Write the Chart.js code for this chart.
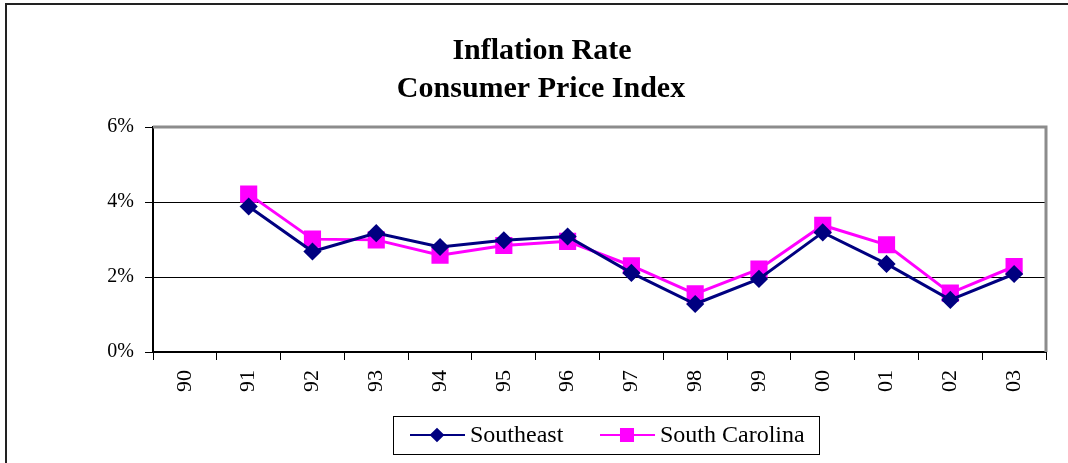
<!DOCTYPE html>
<html>
<head>
<meta charset="utf-8">
<script src="https://cdn.jsdelivr.net/npm/chart.js@4.4.1/dist/chart.umd.min.js"></script>
<style>
  html, body { margin: 0; padding: 0; background: #fff; overflow: hidden; }
  #wrap { position: relative; width: 1068px; height: 463px; }
</style>
</head>
<body>
<div id="wrap"><canvas id="chart" width="1068" height="463"></canvas></div>
<script>
// data
const years = ['90', '91', '92', '93', '94', '95', '96', '97', '98', '99', '00', '01', '02', '03'];
const southeast = [null, 3.88, 2.68, 3.17, 2.80, 2.98, 3.08, 2.11, 1.28, 1.95, 3.19, 2.35, 1.39, 2.08];
const southCarolina = [null, 4.21, 3.01, 2.99, 2.58, 2.84, 2.95, 2.30, 1.55, 2.21, 3.38, 2.86, 1.57, 2.28];
const titleLines = ['Inflation Rate', 'Consumer Price Index'];
const seriesNames = ['Southeast', 'South Carolina'];

const serif = '"Liberation Serif", "Times New Roman", serif';

// frame, plot border, title and the boxed legend
const decorations = {
    id: 'decorations',
    afterDraw(chart) {
        const ctx = chart.ctx;
        const area = chart.chartArea;
        ctx.save();

        // outer frame (top and left only are visible)
        ctx.fillStyle = '#222';
        ctx.fillRect(5, 3, 1068, 2);
        ctx.fillRect(5, 3, 2, 463);

        // grey plot border top / right
        ctx.strokeStyle = '#8c8c8c';
        ctx.lineWidth = 3;
        ctx.beginPath();
        ctx.moveTo(area.left, area.top);
        ctx.lineTo(area.right, area.top);
        ctx.lineTo(area.right, area.bottom);
        ctx.stroke();

        // title
        ctx.fillStyle = '#000';
        ctx.font = 'bold 30px ' + serif;
        ctx.textAlign = 'center';
        ctx.textBaseline = 'middle';
        ctx.fillText(titleLines[0], 542, 51);
        ctx.fillText(titleLines[1], 541, 89);

        // legend box
        ctx.strokeStyle = '#000';
        ctx.lineWidth = 1;
        ctx.strokeRect(393.5, 416.5, 426, 38);
        const items = [
            { x: 410, text: seriesNames[0], ds: chart.data.datasets[0] },
            { x: 600, text: seriesNames[1], ds: chart.data.datasets[1] }
        ];
        const ly = 435;
        ctx.font = '24px ' + serif;
        ctx.textAlign = 'left';
        items.forEach(function (it) {
            ctx.strokeStyle = it.ds.borderColor;
            ctx.lineWidth = 2;
            ctx.beginPath();
            ctx.moveTo(it.x, ly);
            ctx.lineTo(it.x + 55, ly);
            ctx.stroke();
            ctx.fillStyle = it.ds.pointBackgroundColor;
            ctx.strokeStyle = it.ds.pointBorderColor;
            Chart.helpers.drawPoint(ctx, {
                pointStyle: it.ds.pointStyle,
                radius: it.ds.pointRadius * 0.85,
                rotation: 0,
                borderWidth: 1
            }, it.x + 27, ly);
            ctx.fillStyle = '#000';
            ctx.fillText(it.text, it.x + 60, ly + 1);
        });
        ctx.restore();
    }
};

new Chart(document.getElementById('chart'), {
    type: 'line',
    data: {
        labels: years,
        datasets: [{
            label: seriesNames[0],
            data: southeast,
            borderColor: '#000080',
            backgroundColor: '#000080',
            pointBackgroundColor: '#000080',
            pointBorderColor: '#000080',
            pointStyle: 'rectRot',
            pointRadius: 7,
            borderWidth: 3,
            tension: 0
        }, {
            label: seriesNames[1],
            data: southCarolina,
            borderColor: '#ff00ff',
            backgroundColor: '#ff00ff',
            pointBackgroundColor: '#ff00ff',
            pointBorderColor: '#ff00ff',
            pointStyle: 'rect',
            pointRadius: 10,
            borderWidth: 3,
            tension: 0
        }]
    },
    options: {
        responsive: false,
        animation: false,
        layout: { padding: { left: 0, right: 22, top: 127, bottom: 0 } },
        plugins: {
            legend: { display: false },
            title: { display: false },
            tooltip: { enabled: false }
        },
        scales: {
            x: {
                offset: true,
                afterFit: function (s) { s.height = 111; },
                grid: { display: true, drawOnChartArea: false, offset: true, tickLength: 8, color: '#000', lineWidth: 1 },
                border: { display: true, color: '#000', width: 2 },
                ticks: { minRotation: 90, maxRotation: 90, padding: 10, color: '#000', font: { family: serif, size: 22 } }
            },
            y: {
                min: 0,
                max: 6,
                afterFit: function (s) { s.width = 153; },
                grid: { color: '#000', lineWidth: 1, tickLength: 8 },
                border: { display: true, color: '#000', width: 2 },
                ticks: {
                    stepSize: 2,
                    padding: 11,
                    color: '#000',
                    font: { family: serif, size: 20 },
                    callback: function (v) { return v + '%'; }
                }
            }
        }
    },
    plugins: [decorations]
});
</script>
</body>
</html>
